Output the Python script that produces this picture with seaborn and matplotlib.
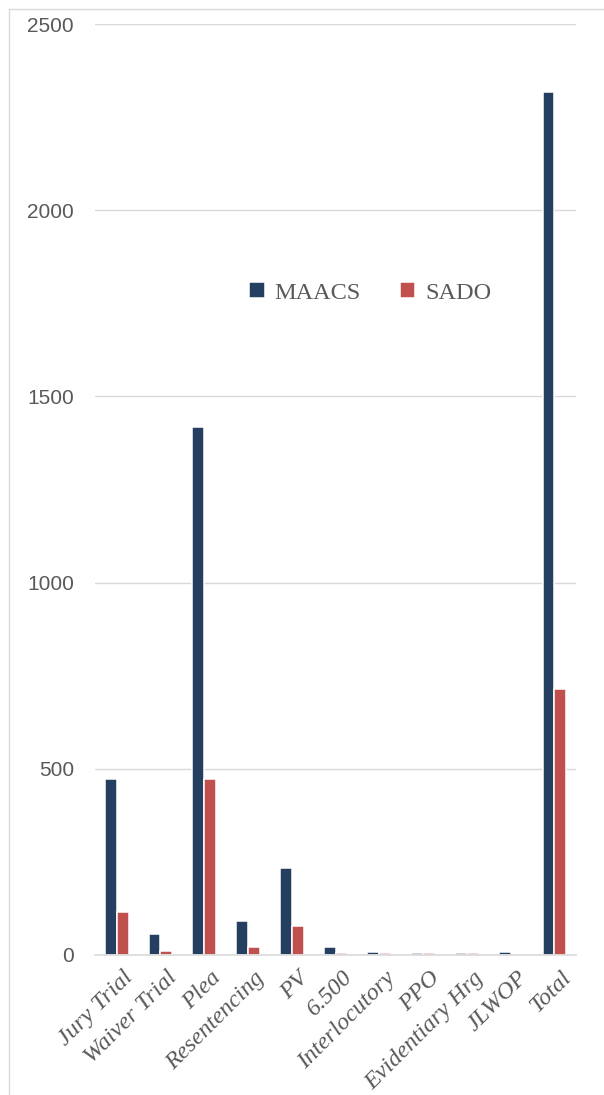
import matplotlib.pyplot as plt
from matplotlib.lines import Line2D
from matplotlib.transforms import ScaledTranslation
import pandas as pd
import seaborn as sns

categories = ['Jury Trial', 'Waiver Trial', 'Plea', 'Resentencing', 'PV', '6.500',
              'Interlocutory', 'PPO', 'Evidentiary Hrg', 'JLWOP', 'Total']
maacs = [473, 56, 1418, 91, 233, 22, 8, 5, 5, 8, 2317]
sado = [116, 11, 472, 22, 78, 5, 4, 4, 4, 0, 713]
y_ticks = [0, 500, 1000, 1500, 2000, 2500]

df = pd.DataFrame({
    'category': categories * 2,
    'value': maacs + sado,
    'office': ['MAACS'] * len(categories) + ['SADO'] * len(categories),
})

sns.set_style('white')
plt.rcParams['font.family'] = ['Liberation Serif', 'DejaVu Serif']

fig = plt.figure(figsize=(6.04, 10.95), dpi=100)
ax = fig.add_axes([0.157, 0.128, 0.797, 0.850])

sns.barplot(data=df, x='category', y='value', hue='office',
            palette={'MAACS': '#243F60', 'SADO': '#C0504D'}, saturation=1,
            width=0.54, edgecolor='white', linewidth=1.1, ax=ax)

ax.set_ylim(0, 2500)
ax.set_xlim(-0.5, len(categories) - 0.5)
ax.set_yticks(y_ticks)
ax.set_yticklabels([str(t) for t in y_ticks], family='Liberation Sans',
                   fontsize=15, color='#595959')
ax.yaxis.grid(True, color='#D9D9D9', linewidth=1)
ax.set_axisbelow(True)
for s in ['top', 'left', 'right']:
    ax.spines[s].set_visible(False)
ax.spines['bottom'].set_color('#D9D9D9')
ax.spines['bottom'].set_linewidth(1.2)
ax.tick_params(axis='both', length=0)
ax.tick_params(axis='y', pad=15)
ax.tick_params(axis='x', pad=9)
ax.set_xticks(range(len(categories)))
ax.set_xticklabels(categories, rotation=45, ha='right', rotation_mode='anchor',
                   fontsize=17.5, style='italic', color='#595959')
# nudge the rotated labels a little to the right, like the original
shift = ScaledTranslation(6 / 100, 0, fig.dpi_scale_trans)
for lbl in ax.get_xticklabels():
    lbl.set_transform(lbl.get_transform() + shift)
ax.set_xlabel('')
ax.set_ylabel('')

leg = ax.legend(loc='center', bbox_to_anchor=(0.572, 0.711), ncol=2, frameon=False,
                fontsize=17.5, handlelength=0.65, handleheight=0.65, columnspacing=1.6,
                handletextpad=0.4)
for t in leg.get_texts():
    t.set_color('#595959')

# chart frame
fig.add_artist(Line2D([9 / 604, 9 / 604], [0, 1 - 9 / 1095], color='#D9D9D9', linewidth=1))
fig.add_artist(Line2D([9 / 604, 1], [1 - 9 / 1095, 1 - 9 / 1095], color='#D9D9D9', linewidth=1))

fig.savefig('out.png', dpi=100)
